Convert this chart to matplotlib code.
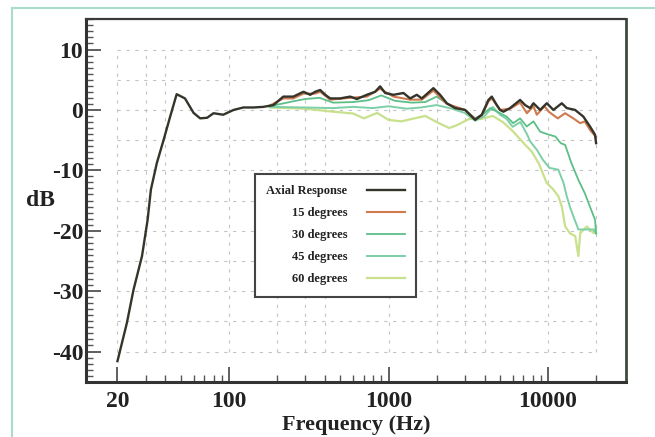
import matplotlib
matplotlib.use("Agg")
import matplotlib.pyplot as plt
from matplotlib.ticker import FixedLocator, NullFormatter, FixedFormatter, MultipleLocator
from matplotlib.lines import Line2D

# ---------------- data ----------------
axial_f = [20, 22.9, 25.2, 28.5, 30.9, 32.4, 35.3, 38.9, 42.8, 47, 53, 60, 66, 73, 80, 92,
           107, 123, 142, 164, 190, 219, 253, 293, 323, 347, 373, 401, 431, 497, 575, 633,
           731, 824, 886, 952, 1074, 1241, 1366, 1504, 1617, 1911, 2105, 2318, 2613, 3018,
           3489, 3844, 4230, 4440, 4772, 5000, 5250, 5780, 6680, 7180, 7720, 8100, 8920,
           9820, 10800, 12190, 13100, 14760, 16630, 18320, 19690, 20000]
axial_db = [-41.6, -35.3, -29.8, -24.2, -18.2, -13.2, -8.8, -5.0, -1.1, 2.6, 1.9, -0.5, -1.4,
            -1.3, -0.55, -0.8, 0.0, 0.4, 0.4, 0.5, 0.8, 2.2, 2.2, 3.0, 2.5, 3.0, 3.3, 2.5, 1.9,
            1.9, 2.2, 1.8, 2.5, 3.0, 3.9, 2.8, 2.5, 2.8, 1.9, 2.5, 1.9, 3.6, 2.5, 1.1, 0.3, 0.0,
            -1.65, -0.8, 1.65, 2.2, 0.8, 0.0, -0.3, 0.3, 1.65, 0.8, 0.3, 1.1, 0.0, 1.1, 0.0, 1.1,
            0.3, 0.0, -1.1, -2.75, -4.1, -5.5]

deg15_f = [180, 219, 253, 293, 347, 373, 431, 575, 731, 886, 1074, 1366, 1617, 1911, 2318,
           3018, 3489, 3844, 4230, 4440, 5000, 5780, 6680, 7370, 8100, 8500, 9500, 10100,
           11500, 12800, 14400, 15900, 17000, 18300, 20000]
deg15_db = [0.7, 1.9, 1.9, 2.7, 2.7, 3.0, 1.7, 2.0, 2.2, 3.5, 2.2, 1.7, 1.7, 3.2, 1.0, 0.0,
            -1.5, -0.9, 1.4, 1.9, 0.0, 0.2, 1.2, -0.55, 0.6, -0.8, 0.6, -0.3, -1.4, -0.55,
            -1.4, -2.2, -1.9, -3.3, -4.5]

deg30_f = [180, 250, 300, 370, 450, 600, 750, 900, 1100, 1400, 1700, 2000, 2400, 3000, 3500,
           4000, 4335, 5000, 5500, 6050, 6680, 7350, 8100, 8920, 10100, 11100, 12000, 12800,
           14000, 15500, 17000, 18300, 19700, 20000]
deg30_db = [0.6, 1.4, 1.8, 2.0, 1.2, 1.3, 1.6, 2.4, 1.5, 1.2, 1.3, 2.2, 0.8, 0.0, -1.4, -0.5,
            0.3, -0.55, -1.1, -2.2, -1.4, -2.75, -1.9, -3.6, -4.1, -4.4, -5.5, -5.8, -8.8,
            -11.6, -13.8, -16.0, -18.2, -20.4]

deg45_f = [180, 300, 450, 600, 800, 1000, 1300, 1600, 2000, 2500, 3000, 3500, 4000, 4500,
           5000, 5500, 6000, 6700, 7400, 7720, 8500, 9300, 10200, 11600, 12500, 13100, 13700,
           14400, 15500, 17500, 19300, 20000]
deg45_db = [0.5, 0.4, 0.3, 0.5, 0.3, 0.6, 0.2, 0.4, 0.8, 0.2, -0.5, -1.8, -1.0, 0.5, -0.8,
            -1.5, -2.8, -2.0, -4.1, -5.2, -6.6, -8.3, -9.6, -9.9, -12.1, -14.3, -16.0, -17.6,
            -19.8, -19.8, -19.8, -20.5]

deg60_f = [180, 300, 450, 600, 700, 850, 1000, 1200, 1400, 1700, 2000, 2400, 2700, 3200,
           3800, 4500, 5200, 6000, 7200, 7900, 8800, 9800, 10800, 11600, 12200, 12800, 13700,
           14800, 15500, 15900, 17500, 19300, 20000]
deg60_db = [0.4, 0.2, -0.3, -0.6, -1.4, -0.5, -1.65, -1.9, -1.5, -1.0, -2.0, -3.0, -2.5, -1.5,
            -1.5, -1.0, -2.0, -3.5, -5.8, -6.9, -9.0, -12.1, -13.2, -14.3, -16.0, -19.3, -20.4,
            -20.9, -24.2, -20.4, -19.3, -20.4, -19.5]

labels = ["Axial Response", "15 degrees", "30 degrees", "45 degrees", "60 degrees"]
x_ticks = [20, 100, 1000, 10000]
x_ticklabels = ["20", "100", "1000", "10000"]
y_ticks = [10, 0, -10, -20, -30, -40]

# ---------------- style ----------------
SERIF = ["Liberation Serif", "DejaVu Serif"]
plt.rcParams["font.family"] = SERIF
plt.rcParams["axes.unicode_minus"] = False

fig = plt.figure(figsize=(6.55, 4.37), dpi=100)
fig.patch.set_facecolor("white")
ax = fig.add_axes([86 / 655, 1 - 381.7 / 437, 540 / 655, 362.4 / 437])

# outer scanned frame
fig.add_artist(Line2D([11.7 / 655, 11.7 / 655], [0, 1 - 8 / 437], transform=fig.transFigure,
                      color="#a9dccb", lw=1.5))
fig.add_artist(Line2D([11.7 / 655, 1.0], [1 - 8 / 437, 1 - 8 / 437], transform=fig.transFigure,
                      color="#a9dccb", lw=1.5))

ax.set_xscale("log")
ax.set_xlim(12.7, 30800)
ax.set_ylim(-45, 15)

# dashed grid inside the 20 Hz .. 20 kHz / -40 .. 10 dB box
grid_kw = dict(color="#c4c4c4", lw=0.8, ls=(0, (3, 5)), zorder=0)
for yv in range(-40, 11, 5):
    ax.plot([20, 20000], [yv, yv], **grid_kw)
for xv in [20, 30, 40, 100, 200, 300, 400, 1000, 2000, 3000, 4000, 10000, 20000]:
    ax.plot([xv, xv], [-40, 10], **grid_kw)

# curves
ax.plot(deg60_f, deg60_db, color="#c9e08c", lw=1.6, label=labels[4], zorder=2)
ax.plot(deg45_f, deg45_db, color="#7ccfa6", lw=1.4, label=labels[3], zorder=2)
ax.plot(deg30_f, deg30_db, color="#5cbf88", lw=1.3, label=labels[2], zorder=3)
ax.plot(deg15_f, deg15_db, color="#cf7a4e", lw=1.5, label=labels[1], zorder=4)
ax.plot(axial_f, axial_db, color="#34342a", lw=1.7, label=labels[0], zorder=5)

# ticks
ax.xaxis.set_major_locator(FixedLocator(x_ticks))
ax.xaxis.set_major_formatter(FixedFormatter(x_ticklabels))
minor_x = [v * d for d in (10, 100, 1000) for v in range(2, 10)] + [20000]
minor_x = [m for m in minor_x if m >= 20 and m not in x_ticks]
ax.xaxis.set_minor_locator(FixedLocator(minor_x))
ax.xaxis.set_minor_formatter(NullFormatter())
ax.yaxis.set_major_locator(FixedLocator(y_ticks))
ax.yaxis.set_minor_locator(MultipleLocator(1))

ax.tick_params(axis="both", which="major", direction="in", length=11, width=1.2,
               colors="#444444", labelsize=17, labelcolor="#222222")
ax.tick_params(axis="both", which="minor", direction="in", length=5, width=1.0,
               colors="#555555")
ax.tick_params(axis="y", which="major", pad=2)
ax.tick_params(axis="x", which="major", pad=7)
ax.tick_params(top=False, right=False, which="both")
for lab in ax.get_xticklabels() + ax.get_yticklabels():
    lab.set_fontweight("bold")

for side, lw, col in [("left", 2.2, "#333333"), ("bottom", 2.2, "#333333"),
                      ("top", 1.6, "#3a3a3a"), ("right", 2.0, "#3e4b3e")]:
    ax.spines[side].set_linewidth(lw)
    ax.spines[side].set_color(col)

ax.set_xlabel("Frequency (Hz)", fontsize=16, color="#222222", labelpad=2, fontweight="bold")
ax.set_ylabel("dB", fontsize=17, color="#222222", rotation=0, labelpad=6, va="center",
              fontweight="bold")
ax.yaxis.set_label_coords(-0.085, (381.7 - 201) / 362.4)

# legend: text first, line sample on the right
handles, labs = ax.get_legend_handles_labels()
order = [labs.index(l) for l in labels]
leg = ax.legend([handles[i] for i in order], [labs[i] for i in order],
                loc="upper left", bbox_to_anchor=(0.313, 0.573), borderaxespad=0,
                markerfirst=False, alignment="right", fontsize=9, handlelength=3.0,
                labelspacing=0.8, borderpad=0.9, handletextpad=1.6,
                fancybox=False, framealpha=1, edgecolor="#444444")
leg.get_frame().set_linewidth(1.5)
for t in leg.get_texts():
    t.set_color("#222222")
    t.set_fontweight("bold")

fig.savefig("out.png", dpi=100, facecolor="white")
